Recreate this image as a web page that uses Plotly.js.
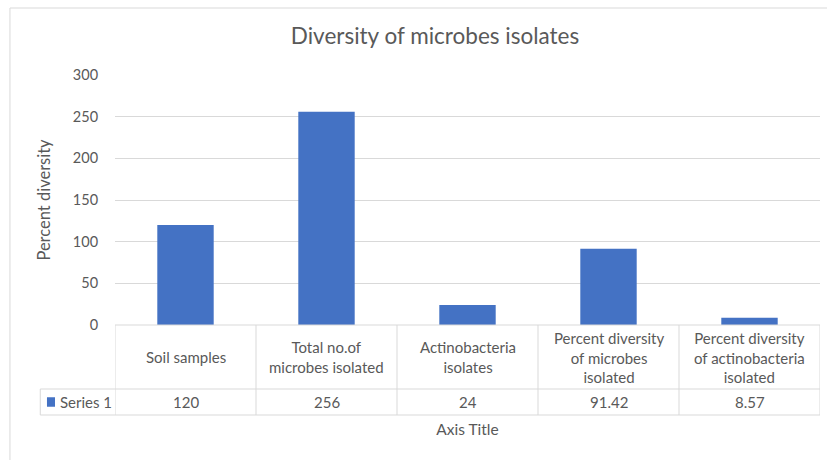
<!DOCTYPE html>
<html>
<head>
<meta charset="utf-8">
<script src="https://cdn.plot.ly/plotly-3.0.1.min.js"></script>
<style>html,body{margin:0;padding:0;background:#fff;}#chart{width:827px;height:460px;}</style>
</head>
<body>
<div id="chart"></div>
<script>
var categories = ["Soil samples", "Total no.of<br>microbes isolated", "Actinobacteria<br>isolates", "Percent diversity<br>of microbes<br>isolated", "Percent diversity<br>of actinobacteria<br>isolated"];
var seriesName = "Series 1";
var values = [120, 256, 24, 91.42, 8.57];
var valueLabels = ["120", "256", "24", "91.42", "8.57"];
var yTicks = [0, 50, 100, 150, 200, 250, 300];

var barColor = "#4472C4";
var gray = "#d9d9d9";
var textColor = "#595959";
var fontFam = "Lato, 'Open Sans', sans-serif";

var xIdx = categories.map(function(_, i){ return i; });
var n = categories.length;

// table geometry (paper y)
var rowTop = 0, rowMid = -0.256, rowBot = -0.36;
var legendLeft = -0.106;

var shapes = [];
shapes.push({type:'line', xref:'x', yref:'paper', x0:-0.5, x1:n-0.5, y0:rowTop, y1:rowTop, line:{color:gray, width:1}});
shapes.push({type:'line', xref:'paper', yref:'paper', x0:legendLeft, x1:1, y0:rowMid, y1:rowMid, line:{color:gray, width:1}});
shapes.push({type:'line', xref:'paper', yref:'paper', x0:legendLeft, x1:1, y0:rowBot, y1:rowBot, line:{color:gray, width:1}});
for (var i = 0; i <= n; i++) {
  shapes.push({type:'line', xref:'x', yref:'paper', x0:i-0.5, x1:i-0.5, y0:rowTop, y1:rowBot, line:{color:gray, width:1}});
}
shapes.push({type:'line', xref:'paper', yref:'paper', x0:legendLeft, x1:legendLeft, y0:rowMid, y1:rowBot, line:{color:gray, width:1}});
// legend key square
shapes.push({type:'rect', xref:'paper', yref:'paper', x0:-0.0965, x1:-0.0851, y0:-0.289, y1:-0.327, fillcolor:barColor, line:{width:0}});
// chart area border (top & left)
shapes.push({type:'line', xref:'paper', yref:'paper', x0:-0.149, x1:1.02, y0:1.268, y1:1.268, line:{color:gray, width:1}});
shapes.push({type:'line', xref:'paper', yref:'paper', x0:-0.149, x1:-0.149, y0:1.268, y1:-0.6, line:{color:gray, width:1}});

var annotations = [];
categories.forEach(function(c, i){
  annotations.push({xref:'x', yref:'paper', x:i, y:(rowTop+rowMid)/2, text:c, showarrow:false,
    font:{family:fontFam, size:15, color:textColor}, xanchor:'center', yanchor:'middle', align:'center'});
  annotations.push({xref:'x', yref:'paper', x:i, y:(rowMid+rowBot)/2, text:valueLabels[i], showarrow:false,
    font:{family:fontFam, size:15, color:textColor}, xanchor:'center', yanchor:'middle'});
});
annotations.push({xref:'paper', yref:'paper', x:-0.081, y:(rowMid+rowBot)/2,
  text:seriesName, showarrow:false,
  font:{family:fontFam, size:15, color:textColor}, xanchor:'left', yanchor:'middle'});

var trace = {
  type:'bar', x:xIdx, y:values, name:seriesName,
  marker:{color:barColor}, width:0.4, hoverinfo:'y'
};

var layout = {
  width:827, height:460,
  margin:{l:115, r:7, t:75, b:135},
  paper_bgcolor:'#fff', plot_bgcolor:'#fff',
  showlegend:false,
  title:{text:'Diversity of microbes isolates', x:0.526, xanchor:'center', y:0.922, yanchor:'middle',
    font:{family:fontFam, size:22.5, color:textColor}},
  font:{family:fontFam, color:textColor},
  xaxis:{range:[-0.5, n-0.5], showticklabels:false, showgrid:false, zeroline:false, showline:false, ticks:'',
    fixedrange:true,
    title:{text:'Axis Title', standoff:99, font:{family:fontFam, size:15.5, color:textColor}}, automargin:false},
  yaxis:{range:[0,300], tickvals:yTicks, ticktext:yTicks.map(String), showgrid:true, gridcolor:gray, gridwidth:1,
    zeroline:false, showline:false, ticks:'outside', ticklen:13, tickcolor:'rgba(0,0,0,0)',
    tickfont:{family:fontFam, size:14.5, color:textColor}, automargin:false,
    title:{text:'Percent diversity', standoff:18, font:{family:fontFam, size:16.5, color:textColor}}},
  shapes:shapes,
  annotations:annotations
};

Plotly.newPlot('chart', [trace], layout, {displayModeBar:false, staticPlot:true});
</script>
</body>
</html>
